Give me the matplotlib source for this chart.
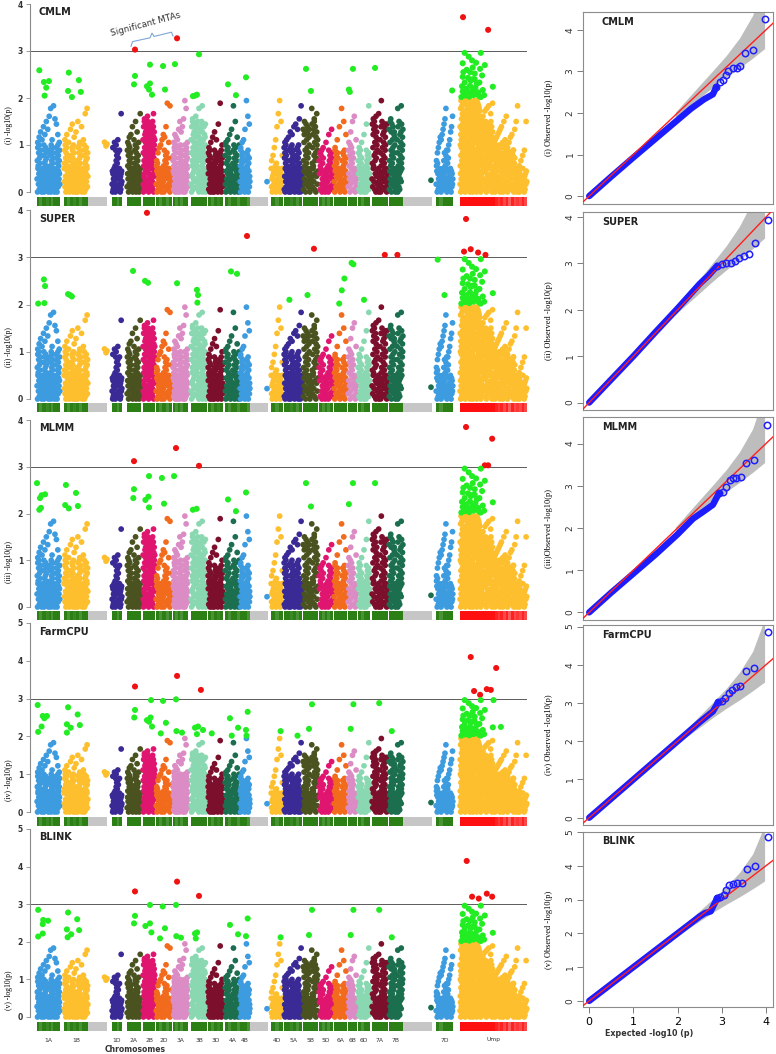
import matplotlib
matplotlib.use("Agg")
import matplotlib.pyplot as plt
from matplotlib.colors import LinearSegmentedColormap
import numpy as np

# ---------------- data ----------------
chroms = ["1A", "1B", "1D", "2A", "2B", "2D", "3A", "3B", "3D", "4A", "4B",
          "4D", "5A", "5B", "5D", "6A", "6B", "6D", "7A", "7B", "7D", "Unmp"]
chrom_labels = chroms[:-1] + ["Ump"]
# genome position of each chromosome (start), span of dense markers, full span
chrom_start = [37, 64, 112, 127, 143, 156, 173, 191, 208, 225, 240,
               271, 284, 303, 319, 334, 348, 358, 372, 389, 436, 460]
chrom_dense = [23, 24, 10, 14, 12, 16, 15, 16, 15, 15, 10,
               12, 18, 15, 14, 13, 9, 12, 16, 14, 17, 67]
chrom_len = [23, 43, 10, 14, 12, 16, 15, 16, 15, 15, 28,
             12, 18, 15, 14, 13, 9, 12, 16, 43, 17, 67]

# marker density under each chromosome (0-9)
strip_density = ["9799897999", "97989799", "9979", "99999", "9999", "97979",
                 "979799", "99999", "97989", "97997", "997", "979", "998979",
                 "99999", "97979", "9999", "999", "9799", "999999", "99999",
                 "97999", "9999999999999878685867686"]

# -log10(p) of non-significant markers, one character per marker
# (base-36 digit / 18), in marker order along the chromosome.
# "base" = the dense lower block, "upper" = the scattered markers above it.
cloud_base = [
    "5c0h9a3f7i1d6b8e2g4" "3807152946" "e3i08b5g1c7h4a9d2f6" "6194082735" "2g7a5e0i3c9h6b1f8d4" "9250617384" "h1d6f09b4i2e8a5c7g3",
    "9b4g2i6d0f5h1a8c3e7" "6194082735" "c8e1a7h3g5d0i9f2b64" "9250617384" "5c0h9a3f7i1d6b8e2g4" "3807152946" "e3i08b5g1c7h4a9d2f6",
    "3807152946" "4a0g8c2e6b9f1d573" "9250617384",
    "2g7a5e0i3c9h6b1f8d4" "6194082735" "9b4g2i6d0f5h1a8c3e7" "3807152946",
    "k3f0pa6c2r7h1m5e8jn4bq9dglio" "o1c8j5ra3gn0eq7bk4hp9d2mf6li" "5qb2hm9ao4er1jc7pf0ld6ni3gk8",
    "3a80b7152946" "6194082735" "4a0g8c2e6b9f1d573" "9250617384",
    "c8e1a7h3g5d0i9f2b64" "3807152946" "h1d6f09b4i2e8a5c7g3" "6194082735" "e3i08b5g1c7h4a9d2f6",
    "k3f0pa6c2r7h1m5e8jn4bq9dglio" "5qb2hm9ao4er1jc7pf0ld6ni3gk8" "o1c8j5ra3gn0eq7bk4hp9d2mf6li" "3807152946",
    "c7f1a9e3g05b8d264" "9250617384" "4a0g8c2e6b9f1d573" "3807152946" "c7f1a9e3g05b8d264",
    "e3i08b5g1c7h4a9d2f6" "3807152946" "9b4g2i6d0f5h1a8c3e7" "9250617384",
    "4a0g8c2e6b9f1d573" "6194082735" "c7f1a9e3g05b8d264",
    "9250617384" "3a80b7152946" "3807152946",
    "h1d6f09b4i2e8a5c7g3" "6194082735" "5c0h9a3f7i1d6b8e2g4" "9250617384" "c8e1a7h3g5d0i9f2b64" "3807152946",
    "o1c8j5ra3gn0eq7bk4hp9d2mf6li" "3807152946" "5qb2hm9ao4er1jc7pf0ld6ni3gk8",
    "c7f1a9e3g05b8d264" "3807152946" "4a0g8c2e6b9f1d573",
    "4a0g8c2e6b9f1d573" "9250617384" "c7f1a9e3g05b8d264",
    "2g7a5e0i3c9h6b1f8d4" "6194082735",
    "c7f1a9e3g05b8d264" "6194082735" "4a0g8c2e6b9f1d573",
    "5qb2hm9ao4er1jc7pf0ld6ni3gk8" "6194082735" "k3f0pa6c2r7h1m5e8jn4bq9dglio" "9250617384",
    "o1c8j5ra3gn0eq7bk4hp9d2mf6li" "3807152946" "k3f0pa6c2r7h1m5e8jn4bq9dglio",
    "3a80b7152946" "3807152946" "c7f1a9e3g05b8d264" "6194082735",
]
cloud_upper = [
    "jlnkpmrotwkxsqmj", "kmjoqlnrjpkuw", "hjikgu", "jlmpkrnju", "stqu",
    "cfhikmlpyjxd", "jmlkornpszwj", "stwxq", "hjlnkqyi", "jkmoxrli",
    "hjkoztq", "cehkpuzre", "jklnmpqosx", "mnowsu", "fhjmo", "hkpwrm",
    "jnrtk", "hjmqx", "stuzpq", "snwx", "cfhjlkmoqswdgiknpt",
]
# unmapped markers: five stretches with falling height
unmp_edges = [0.0, 0.30, 0.50, 0.70, 0.87, 1.0]
unmp_base = [
    "3pai7w0mez5khs1ocx8j2ufq9ybl4tgn6rdv" "et2l9ybo5i0vgq7kcz3nhs1jax6pdu8m4wfr"
    "8mcx1jfr6uak3zho0idw9q5tgn2ybl7sep4v" "by4ohs0i7qdw2l9ufj5zamcr1vek6tgp3x8n"
    "6kfu0naz9j3sep7ybm1rhi4xdo8w2lgvcq5t",
    "k3f0pa6c2r7h1m5e8jn4bq9dglio" "o1c8j5ra3gn0eq7bk4hp9d2mf6li" "5qb2hm9ao4er1jc7pf0ld6ni3gk8",
    "2g7a5e0i3c9h6b1f8d4" "9b4g2i6d0f5h1a8c3e7" "5c0h9a3f7i1d6b8e2g4",
    "4a0g8c2e6b9f1d573" "c7f1a9e3g05b8d264" "6194082735",
    "3807152946" "9250617384",
]
unmp_upper = ["", "stvwxuy", "jklmnopjrkt", "hjlmgorx", "acegr"]

# sparse markers beyond the dense block: chromosome, offset, -log10(p)
tail_chrom = ["1B", "1B", "1B", "4B", "7B"]
tail_pos = [40.5, 42.0, 43.0, 27.0, 42.0]
tail_val = [1.06, 0.98, 1.02, 0.22, 0.25]

# markers above 2 for each method: (chromosome, relative position, -log10(p))
cmlm_hits = [
    ("1A", 0.10, 2.59), ("1A", 0.30, 2.34), ("1A", 0.52, 2.36), ("1A", 0.40, 2.22), ("1A", 0.33, 2.05),
    ("1B", 0.20, 2.54), ("1B", 0.62, 2.38), ("1B", 0.17, 2.15), ("1B", 0.70, 2.13), ("1B", 0.33, 2.02),
    ("2A", 0.57, 3.03), ("2A", 0.57, 2.47), ("2A", 0.50, 2.29),
    ("2B", 0.58, 2.71), ("2B", 0.33, 2.25), ("2B", 0.58, 2.31), ("2B", 0.50, 2.18), ("2B", 0.75, 2.07),
    ("2D", 0.44, 2.68), ("2D", 0.56, 2.18),
    ("3A", 0.27, 3.27), ("3A", 0.13, 2.72),
    ("3B", 0.50, 2.93), ("3B", 0.12, 2.04), ("3B", 0.37, 2.07), ("3B", 0.25, 2.05),
    ("4A", 0.20, 2.29), ("4A", 0.73, 2.06), ("4B", 0.60, 2.44),
    ("5B", 0.20, 2.62), ("5B", 0.53, 2.15),
    ("6B", 0.55, 2.62), ("6B", 0.10, 2.18), ("6B", 0.20, 2.13),
    ("7A", 0.19, 2.64), ("7D", 0.95, 2.16),
    ("Unmp", 0.045, 3.72), ("Unmp", 0.42, 3.45),
]
super_hits = [
    ("1A", 0.30, 2.53), ("1A", 0.35, 2.39), ("1A", 0.05, 2.02), ("1A", 0.32, 2.03),
    ("1B", 0.17, 2.22), ("1B", 0.33, 2.17), ("1B", 0.25, 2.20),
    ("2A", 0.43, 2.71),
    ("2B", 0.33, 3.94), ("2B", 0.17, 2.50), ("2B", 0.42, 2.46),
    ("3A", 0.27, 2.45),
    ("3B", 0.37, 2.31), ("3B", 0.44, 2.20), ("3B", 0.40, 2.04),
    ("4A", 0.40, 2.70), ("4A", 0.80, 2.65), ("4B", 0.70, 3.45),
    ("5A", 0.30, 2.10), ("5B", 0.73, 3.18), ("5B", 0.30, 2.20),
    ("6A", 0.40, 2.02), ("6A", 0.60, 2.30), ("6A", 0.80, 2.55),
    ("6B", 0.40, 2.88), ("6B", 0.60, 2.85), ("6D", 0.50, 2.10),
    ("7A", 0.80, 3.05), ("7B", 0.60, 3.05),
    ("7D", 0.10, 2.95), ("7D", 0.50, 2.20),
    ("Unmp", 0.09, 3.81), ("Unmp", 0.16, 3.17), ("Unmp", 0.27, 3.10), ("Unmp", 0.06, 3.12), ("Unmp", 0.38, 3.05),
]
mlmm_hits = [
    ("1A", 0.00, 2.65), ("1A", 0.20, 2.39), ("1A", 0.35, 2.41), ("1A", 0.13, 2.33), ("1A", 0.17, 2.12), ("1A", 0.10, 2.08),
    ("1B", 0.08, 2.61), ("1B", 0.50, 2.44), ("1B", 0.20, 2.11), ("1B", 0.58, 2.16), ("1B", 0.05, 2.18),
    ("2A", 0.50, 3.12), ("2A", 0.50, 2.52), ("2A", 0.45, 2.33),
    ("2B", 0.50, 2.80), ("2B", 0.45, 2.36), ("2B", 0.20, 2.29), ("2B", 0.50, 2.13),
    ("2D", 0.37, 2.76), ("2D", 0.50, 2.21),
    ("3A", 0.20, 3.40), ("3A", 0.07, 2.80),
    ("3B", 0.50, 3.02), ("3B", 0.12, 2.08), ("3B", 0.35, 2.10),
    ("4A", 0.20, 2.30), ("4A", 0.73, 2.05), ("4B", 0.60, 2.45),
    ("5B", 0.20, 2.65), ("5B", 0.53, 2.15),
    ("6B", 0.55, 2.65), ("6B", 0.10, 2.20), ("7A", 0.19, 2.65),
    ("Unmp", 0.09, 3.85), ("Unmp", 0.48, 3.60), ("Unmp", 0.37, 3.03), ("Unmp", 0.42, 3.03),
]
farm_hits = [
    ("1A", 0.03, 2.83), ("1A", 0.25, 2.54), ("1A", 0.43, 2.54), ("1A", 0.32, 2.48), ("1A", 0.20, 2.26), ("1A", 0.05, 2.12),
    ("1B", 0.17, 2.77), ("1B", 0.57, 2.58), ("1B", 0.12, 2.32), ("1B", 0.28, 2.23), ("1B", 0.66, 2.30), ("1B", 0.12, 2.10),
    ("2A", 0.57, 3.32), ("2A", 0.57, 2.70), ("2A", 0.52, 2.50),
    ("2B", 0.67, 2.96), ("2B", 0.33, 2.43), ("2B", 0.63, 2.50), ("2B", 0.75, 2.26), ("2B", 0.50, 2.39),
    ("2D", 0.44, 2.94), ("2D", 0.62, 2.36), ("2D", 0.30, 2.08),
    ("3A", 0.27, 3.60), ("3A", 0.20, 2.98), ("3A", 0.23, 2.14), ("3A", 0.60, 2.10),
    ("3B", 0.62, 3.23), ("3B", 0.25, 2.23), ("3B", 0.44, 2.26), ("3B", 0.75, 2.17), ("3B", 0.37, 2.06),
    ("3D", 0.25, 2.08),
    ("4A", 0.33, 2.48), ("4A", 0.45, 2.02), ("4A", 0.87, 2.23),
    ("4B", 0.77, 2.65), ("4B", 0.60, 2.17), ("4B", 0.65, 2.02),
    ("4D", 0.80, 2.14), ("5A", 0.75, 2.02),
    ("5B", 0.60, 2.85), ("5B", 0.40, 2.20),
    ("6B", 0.60, 2.85), ("6B", 0.30, 2.20),
    ("7A", 0.45, 2.88), ("7B", 0.20, 2.14),
    ("Unmp", 0.16, 4.10), ("Unmp", 0.54, 3.81), ("Unmp", 0.21, 3.20), ("Unmp", 0.30, 3.10),
    ("Unmp", 0.40, 3.25), ("Unmp", 0.46, 3.23), ("Unmp", 0.61, 2.25), ("Unmp", 0.50, 2.96),
]
blink_hits = [
    ("1A", 0.05, 2.85), ("1A", 0.27, 2.58), ("1A", 0.48, 2.56), ("1A", 0.25, 2.22), ("1A", 0.05, 2.14), ("1A", 0.25, 2.47),
    ("1B", 0.17, 2.78), ("1B", 0.55, 2.60), ("1B", 0.12, 2.33), ("1B", 0.30, 2.20), ("1B", 0.63, 2.31), ("1B", 0.15, 2.12),
    ("2A", 0.57, 3.34), ("2A", 0.57, 2.69), ("2A", 0.50, 2.49),
    ("2B", 0.58, 2.98), ("2B", 0.20, 2.42), ("2B", 0.58, 2.49), ("2B", 0.70, 2.25),
    ("2D", 0.42, 2.94), ("2D", 0.56, 2.36), ("2D", 0.25, 2.09),
    ("3A", 0.27, 3.60), ("3A", 0.20, 2.98), ("3A", 0.22, 2.15), ("3A", 0.53, 2.11),
    ("3B", 0.50, 3.22), ("3B", 0.25, 2.22), ("3B", 0.38, 2.25), ("3B", 0.30, 2.09),
    ("4A", 0.33, 2.45), ("4A", 0.87, 2.20),
    ("4B", 0.77, 2.62), ("4B", 0.60, 2.15), ("4D", 0.80, 2.12),
    ("5B", 0.60, 2.85), ("5B", 0.40, 2.18),
    ("6B", 0.60, 2.85), ("6B", 0.30, 2.18),
    ("7A", 0.45, 2.85), ("7B", 0.20, 2.12),
    ("Unmp", 0.10, 4.15), ("Unmp", 0.18, 3.20), ("Unmp", 0.28, 3.15), ("Unmp", 0.40, 3.28), ("Unmp", 0.48, 3.20),
]
# cluster of suggestive unmapped markers (same in all methods)
unmp_cluster = [
    (0.07, 2.96), (0.31, 2.96), (0.04, 2.74), (0.18, 2.80), (0.37, 2.70), (0.19, 2.65), (0.10, 2.60),
    (0.15, 2.55), (0.22, 2.52), (0.33, 2.48), (0.04, 2.45), (0.12, 2.43), (0.19, 2.40), (0.07, 2.33),
    (0.15, 2.26), (0.25, 2.30), (0.10, 2.20), (0.19, 2.17), (0.04, 2.14), (0.34, 2.17), (0.49, 2.24),
    (0.12, 2.10), (0.25, 2.10), (0.16, 2.37), (0.22, 2.40), (0.28, 2.05), (0.08, 2.05), (0.30, 2.62),
    (0.13, 2.88), (0.24, 2.75), (0.02, 2.02), (0.06, 2.08), (0.14, 2.03), (0.20, 2.06), (0.27, 2.12),
    (0.31, 2.02), (0.36, 2.06), (0.10, 2.15), (0.03, 2.25), (0.17, 2.12), (0.23, 2.22), (0.29, 2.33),
    (0.05, 2.55),
]

methods = ["CMLM", "SUPER", "MLMM", "FarmCPU", "BLINK"]
romans = ["(i)", "(ii)", "(iii)", "(iv)", "(v)"]
man_ymax = [4, 4, 4, 5, 5]

# QQ plots: observed vs expected -log10(p)
qq_body_exp = [
    [0, 0.5, 1.0, 1.5, 2.0, 2.3, 2.6, 2.8, 2.88],
    [0, 0.5, 1.0, 1.5, 2.0, 2.5, 2.7, 2.85, 2.9],
    [0, 0.5, 1.0, 1.5, 2.0, 2.35, 2.6, 2.8, 2.94],
    [0, 0.5, 1.0, 1.5, 2.0, 2.5, 2.8, 2.92],
    [0, 0.5, 1.0, 1.5, 2.0, 2.5, 2.62, 2.75, 2.9],
]
qq_body_obs = [
    [0, 0.47, 0.93, 1.38, 1.83, 2.10, 2.33, 2.45, 2.63],
    [0, 0.50, 1.00, 1.52, 2.03, 2.56, 2.74, 2.90, 2.95],
    [0, 0.47, 0.92, 1.37, 1.85, 2.22, 2.40, 2.55, 2.83],
    [0, 0.50, 1.00, 1.50, 2.00, 2.50, 2.78, 3.02],
    [0, 0.50, 1.00, 1.50, 2.00, 2.50, 2.60, 2.65, 3.05],
]
qq_tail_exp = [
    [2.88, 2.95, 3.02, 3.10, 3.15, 3.26, 3.34, 3.41, 3.53, 3.70, 3.99],
    [2.90, 3.00, 3.10, 3.20, 3.30, 3.40, 3.50, 3.62, 3.75, 4.05],
    [2.94, 3.02, 3.10, 3.18, 3.26, 3.33, 3.43, 3.55, 3.73, 4.02],
    [2.92, 3.00, 3.08, 3.16, 3.24, 3.32, 3.42, 3.55, 3.72, 4.05],
    [2.90, 2.96, 3.04, 3.10, 3.17, 3.26, 3.34, 3.46, 3.57, 3.75, 4.05],
]
qq_tail_obs = [
    [2.63, 2.75, 2.80, 2.92, 3.02, 3.08, 3.09, 3.12, 3.44, 3.52, 4.27],
    [2.95, 2.98, 3.00, 3.02, 3.05, 3.12, 3.17, 3.20, 3.45, 3.94],
    [2.83, 2.86, 2.98, 3.14, 3.18, 3.19, 3.20, 3.53, 3.60, 4.45],
    [3.02, 3.06, 3.12, 3.25, 3.35, 3.42, 3.45, 3.85, 3.92, 4.85],
    [3.05, 3.08, 3.13, 3.28, 3.42, 3.47, 3.50, 3.50, 3.91, 4.00, 4.85],
]
band_exp = [1.95, 2.4, 2.8, 3.1, 3.4, 3.7, 3.97]
band_low = [1.90, 2.28, 2.62, 2.86, 3.08, 3.32, 3.55]
band_up = [2.02, 2.55, 3.02, 3.38, 3.80, 4.35, 5.20]

# ---------------- drawing ----------------
W, H = 776, 1054
fig = plt.figure(figsize=(W / 100, H / 100), dpi=100)

def rect(l, t, r, b):
    return [l / W, 1 - b / H, (r - l) / W, (b - t) / H]

def decode(code):
    return np.array([int(ch, 36) for ch in code]) / 18.0

chrom_colors = ["#3d9be0", "#fdbf2d", "#3a2a96", "#4a5320", "#e0156f",
                "#f26b1d", "#dc8cc5", "#8ad8b2", "#7c0f2c", "#1b6e4e"]
sig_green, sig_red = "#22ec22", "#f01212"
green_map = LinearSegmentedColormap.from_list("g", ["#b9d6ad", "#2b7f15"])
red_map = LinearSegmentedColormap.from_list("r", ["#f4bcbc", "#ff1010"])
idx = {c: i for i, c in enumerate(chroms)}

bg_x, bg_y, bg_c = [], [], []

def add_run(code, x0, width, color):
    if not code:
        return
    vals = decode(code)
    n = len(vals)
    bg_x.extend(x0 + (np.arange(n) + 0.5) / n * width)
    bg_y.extend(vals)
    bg_c.extend([color] * n)

for ci in range(len(cloud_base)):
    col = chrom_colors[ci % 10]
    add_run(cloud_base[ci], chrom_start[ci], chrom_dense[ci], col)
    add_run(cloud_upper[ci], chrom_start[ci], chrom_dense[ci], col)
u = idx["Unmp"]
for j in range(len(unmp_base)):
    x0 = chrom_start[u] + unmp_edges[j] * chrom_dense[u]
    wd = (unmp_edges[j + 1] - unmp_edges[j]) * chrom_dense[u]
    add_run(unmp_base[j], x0, wd, chrom_colors[u % 10])
    add_run(unmp_upper[j], x0, wd, chrom_colors[u % 10])
for c, p, v in zip(tail_chrom, tail_pos, tail_val):
    ci = idx[c]
    bg_x.append(chrom_start[ci] + p)
    bg_y.append(v)
    bg_c.append(chrom_colors[ci % 10])

man_px = [(4, 192), (210, 399), (420, 607), (623, 812), (829, 1017)]
strip_px = [197, 403, 611, 817, 1022]
label_px = [125, 347, 562, 780, 990]
hits_all = [cmlm_hits, super_hits, mlmm_hits, farm_hits, blink_hits]

for k in range(5):
    top, zero = man_px[k]
    ax = fig.add_axes(rect(30, top, 527, zero))
    ax.set_xlim(30, 527)
    ax.set_ylim(0, man_ymax[k])
    for s in ["top", "right", "bottom"]:
        ax.spines[s].set_visible(False)
    ax.spines["left"].set_color("#8a8a8a")
    ax.spines["left"].set_linewidth(0.8)
    ax.set_xticks([])
    ax.set_yticks(range(man_ymax[k] + 1))
    ax.tick_params(axis="y", length=3, width=0.6, color="#8a8a8a", labelsize=5.5, pad=2)
    for lab in ax.get_yticklabels():
        lab.set_fontweight("bold")
        lab.set_color("#333333")
    ax.patch.set_alpha(0)

    ax.scatter(bg_x, bg_y, s=17, c=bg_c, linewidths=0, clip_on=False, zorder=2)

    hx, hy, hc = [], [], []
    for c, f, v in hits_all[k] + [("Unmp", f, v) for f, v in unmp_cluster]:
        ci = idx[c]
        hx.append(chrom_start[ci] + f * chrom_dense[ci])
        hy.append(v)
        hc.append(sig_red if v >= 3 else sig_green)
    ax.scatter(hx, hy, s=19, c=hc, linewidths=0, clip_on=False, zorder=3)
    ax.axhline(3, color="#5a5a5a", lw=0.7, zorder=1)

    ax.text(0.018, 0.955, methods[k], transform=ax.transAxes, fontsize=7,
            fontweight="bold", color="#222222", ha="left", va="center")
    fig.text(9 / W, 1 - label_px[k] / H, romans[k] + " -log10(p)", rotation=90,
             ha="center", va="center", fontsize=5.5, family="Liberation Serif")

    # marker density strip
    sax = fig.add_axes(rect(30, strip_px[k], 527, strip_px[k] + 9))
    sax.set_xlim(30, 527)
    sax.set_ylim(0, 1)
    sax.axis("off")
    for ci, dens in enumerate(strip_density):
        seg = chrom_dense[ci] / len(dens)
        cmap = red_map if chroms[ci] == "Unmp" else green_map
        for j, d in enumerate(dens):
            sax.bar(chrom_start[ci] + j * seg, 1, width=seg, align="edge",
                    color=cmap(int(d) / 9), linewidth=0)
        if chrom_len[ci] > chrom_dense[ci]:
            sax.bar(chrom_start[ci] + chrom_dense[ci], 1,
                    width=chrom_len[ci] - chrom_dense[ci], align="edge",
                    color="#c6c6c6", linewidth=0)

    if k == 0:
        # brace and note over the two significant MTAs
        bx = [131, 132.5, 150, 152, 154, 171.5, 173]
        by = [3.10, 3.20, 3.28, 3.38, 3.31, 3.40, 3.32]
        ax.plot(bx, by, color="#7ea6d6", lw=0.8, zorder=4)
        ax.text(146, 3.56, "Significant MTAs", rotation=15, fontsize=6.3,
                color="#333333", ha="center", va="center")

# chromosome names under the last strip
for ci, lab in enumerate(chrom_labels):
    fig.text((chrom_start[ci] + chrom_dense[ci] / 2) / W, 1 - 1040 / H, lab,
             fontsize=4.3, ha="center", va="center", color="#333333")
fig.text(135 / W, 1 - 1049 / H, "Chromosomes", fontsize=5.5, fontweight="bold",
         ha="center", va="center", color="#333333")

# ---------------- QQ plots ----------------
qq_px = [(12, 204), (212, 410), (417, 620), (625, 825), (832, 1007)]
qq_ylim = [(-0.19, 4.43), (-0.16, 4.11), (-0.18, 4.63), (-0.19, 5.04), (-0.18, 5.0)]
for k in range(5):
    top, bot = qq_px[k]
    ax = fig.add_axes(rect(583, top, 773, bot))
    ax.set_xlim(-0.14, 4.16)
    ax.set_ylim(*qq_ylim[k])
    ax.fill_between(band_exp, band_low, band_up, color="#bdbdbd", linewidth=0, zorder=1)
    ax.plot([-1, 6], [-1, 6], color="#ff2020", lw=1.0, zorder=3)
    ax.plot(qq_body_exp[k], qq_body_obs[k], color="#1c1cff", lw=4.6,
            solid_capstyle="round", solid_joinstyle="round", zorder=2)
    ax.plot(qq_tail_exp[k], qq_tail_obs[k], "o", mfc="none", mec="#2020ff",
            ms=4.6, mew=1.1, zorder=4)
    for s in ax.spines.values():
        s.set_color("#8c8c8c")
        s.set_linewidth(0.8)
    ax.set_yticks(range(int(qq_ylim[k][1]) + 1))
    ax.tick_params(axis="y", length=4, width=0.6, color="#666666", labelsize=6.5,
                   pad=2, labelrotation=90)
    for lab in ax.get_yticklabels():
        lab.set_va("center")
        lab.set_color("#333333")
    if k < 4:
        ax.set_xticks([])
    else:
        ax.set_xticks(range(5))
        ax.tick_params(axis="x", length=4, width=0.6, color="#666666", labelsize=8, pad=3)
        ax.set_xlabel("Expected -log10 (p)", fontsize=5.8, fontweight="bold",
                      labelpad=2, x=0.35, color="#333333")
    ax.text(0.1, 0.95, methods[k], transform=ax.transAxes, fontsize=7,
            fontweight="bold", color="#222222", ha="left", va="center")
    sep = "" if romans[k] == "(iii)" else " "
    fig.text(549 / W, 1 - ((top + bot) / 2 + 10) / H, romans[k] + sep + "Observed -log10(p)",
             rotation=90, ha="center", va="center", fontsize=6,
             family="Liberation Serif")

fig.savefig("out.png", dpi=100, facecolor="white")
